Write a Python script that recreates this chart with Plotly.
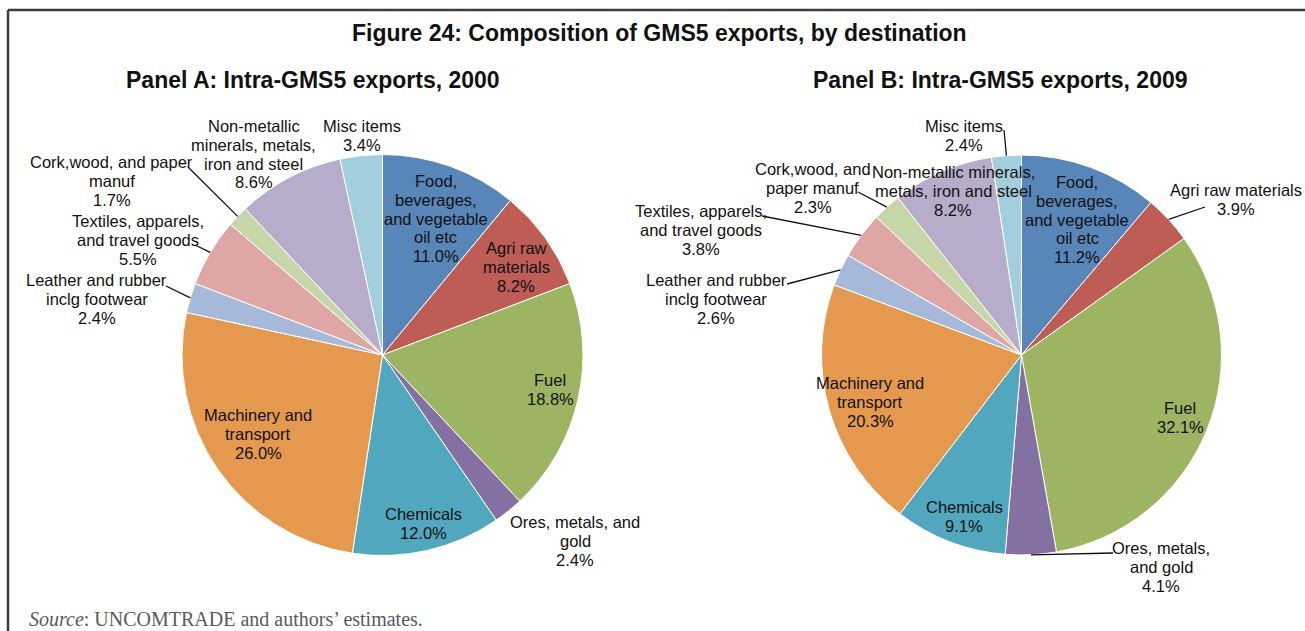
import math
import plotly.graph_objects as go

W, H = 1305, 631

# ---- data -------------------------------------------------------------
categories = [
    "Food, beverages, and vegetable oil etc",
    "Agri raw materials",
    "Fuel",
    "Ores, metals, and gold",
    "Chemicals",
    "Machinery and transport",
    "Leather and rubber inclg footwear",
    "Textiles, apparels, and travel goods",
    "Cork,wood, and paper manuf",
    "Non-metallic minerals, metals, iron and steel",
    "Misc items",
]
share_2000 = [11.0, 8.2, 18.8, 2.4, 12.0, 26.0, 2.4, 5.5, 1.7, 8.6, 3.4]
share_2009 = [11.2, 3.9, 32.1, 4.1, 9.1, 20.3, 2.6, 3.8, 2.3, 8.2, 2.4]

slice_colors = [
    "#5886B9", "#BE5D56", "#9DB563", "#8570A2", "#51A8BE", "#E5994F",
    "#A6B9D9", "#DEA6A4", "#C7D6A8", "#B7ACCA", "#A3CEDD",
]

# wrapped category names as printed next to each slice
lines_2000 = [
    ["Food,", "beverages,", "and vegetable", "oil etc"],
    ["Agri raw", "materials"],
    ["Fuel"],
    ["Ores, metals, and", "gold"],
    ["Chemicals"],
    ["Machinery and", "transport"],
    ["Leather and rubber", "inclg footwear"],
    ["Textiles, apparels,", "and travel goods"],
    ["Cork,wood, and paper", "manuf"],
    ["Non-metallic", "minerals, metals,", "iron and steel"],
    ["Misc items"],
]
lines_2009 = [
    ["Food,", "beverages,", "and vegetable", "oil etc"],
    ["Agri raw materials"],
    ["Fuel"],
    ["Ores, metals,", "and gold"],
    ["Chemicals"],
    ["Machinery and", "transport"],
    ["Leather and rubber", "inclg footwear"],
    ["Textiles, apparels,", "and travel goods"],
    ["Cork,wood, and", "paper manuf"],
    ["Non-metallic minerals,", "metals, iron and steel"],
    ["Misc items"],
]

# label block placement in pixels: (centre x, first line y), and the
# label-side end of a leader line (None where the label sits on the slice)
label_pos_2000 = [(436, 181), (516, 248), (550, 380), (575, 522), (424, 514),
                  (258, 415), (97, 280), (138, 221), (112, 162), (254, 126),
                  (362, 126)]
leader_end_2000 = [None, None, None, None, None, None,
                   (166, 286), (195, 245), (188, 167), None, None]

label_pos_2009 = [(1077, 182), (1236, 190), (1180, 408), (1161, 548), (964, 507),
                  (870, 383), (716, 280), (701, 211), (813, 169), (953, 172),
                  (964, 126)]
leader_end_2009 = [None, (1205, 207), None, (1113, 553), None, None,
                   (787, 284), (762, 216), (858, 192), None, (1004, 130)]

panels = [
    dict(title="Panel A: Intra-GMS5 exports, 2000", title_x=313, values=share_2000,
         lines=lines_2000, pos=label_pos_2000, leaders=leader_end_2000,
         cx=382.5, cy=355, r=200.5),
    dict(title="Panel B: Intra-GMS5 exports, 2009", title_x=1000, values=share_2009,
         lines=lines_2009, pos=label_pos_2009, leaders=leader_end_2009,
         cx=1021.5, cy=355, r=200.0),
]

LABEL_FONT = dict(family="Liberation Sans, Arial, sans-serif", size=16.5, color="#111111")
LINE_STEP = 18.8


def px(x):
    return x / W


def py(y):
    return 1 - y / H


fig = go.Figure()
annotations = []
shapes = []

for p in panels:
    cx, cy, r = p["cx"], p["cy"], p["r"]
    fig.add_trace(go.Pie(
        labels=categories,
        values=p["values"],
        sort=False,
        direction="clockwise",
        rotation=0,
        textinfo="none",
        hoverinfo="label+percent",
        marker=dict(colors=slice_colors, line=dict(color="white", width=1)),
        domain=dict(x=[px(cx - r), px(cx + r)], y=[py(cy + r), py(cy - r)]),
        showlegend=False,
    ))

    total = sum(p["values"])
    cum = 0.0
    for name_lines, v, (lx, ly), lead in zip(p["lines"], p["values"], p["pos"], p["leaders"]):
        mid = math.radians(360.0 * (cum + v / 2) / total)
        cum += v
        rows = name_lines + [f"{v:.1f}%"]
        for i, row in enumerate(rows):
            annotations.append(dict(
                x=px(lx), y=py(ly + i * LINE_STEP), xref="paper", yref="paper",
                text=row, showarrow=False, xanchor="center", yanchor="middle",
                font=LABEL_FONT,
            ))
        if lead is not None:
            sx = cx + r * math.sin(mid)
            sy = cy - r * math.cos(mid)
            shapes.append(dict(
                type="line", xref="paper", yref="paper",
                x0=px(sx), y0=py(sy), x1=px(lead[0]), y1=py(lead[1]),
                line=dict(color="#111111", width=1.3),
            ))

    annotations.append(dict(
        x=px(p["title_x"]), y=py(80), xref="paper", yref="paper",
        text=f"<b>{p['title']}</b>", showarrow=False,
        xanchor="center", yanchor="middle",
        font=dict(family="Liberation Sans, Arial, sans-serif", size=23, color="#111111"),
    ))

# figure heading
annotations.append(dict(
    x=px(659), y=py(33), xref="paper", yref="paper",
    text="<b>Figure 24: Composition of GMS5 exports, by destination</b>",
    showarrow=False, xanchor="center", yanchor="middle",
    font=dict(family="Liberation Sans, Arial, sans-serif", size=23, color="#111111"),
))

# source note
annotations.append(dict(
    x=px(27), y=py(619), xref="paper", yref="paper",
    text="<i>Source</i>: UNCOMTRADE and authors\u2019 estimates.",
    showarrow=False, xanchor="left", yanchor="middle",
    font=dict(family="Liberation Serif, Times New Roman, serif", size=20, color="#5a5a5a"),
))

# frame around the figure (left and top edges)
frame = dict(color="#3c3c3c", width=2.5)
shapes.append(dict(type="line", xref="paper", yref="paper",
                   x0=px(8), y0=0, x1=px(8), y1=py(10), line=frame))
shapes.append(dict(type="line", xref="paper", yref="paper",
                   x0=px(8), y0=py(10), x1=1, y1=py(10), line=frame))

fig.update_layout(
    width=W, height=H,
    margin=dict(l=0, r=0, t=0, b=0),
    paper_bgcolor="white",
    plot_bgcolor="white",
    showlegend=False,
    annotations=annotations,
    shapes=shapes,
)

fig.write_html("out.html")
